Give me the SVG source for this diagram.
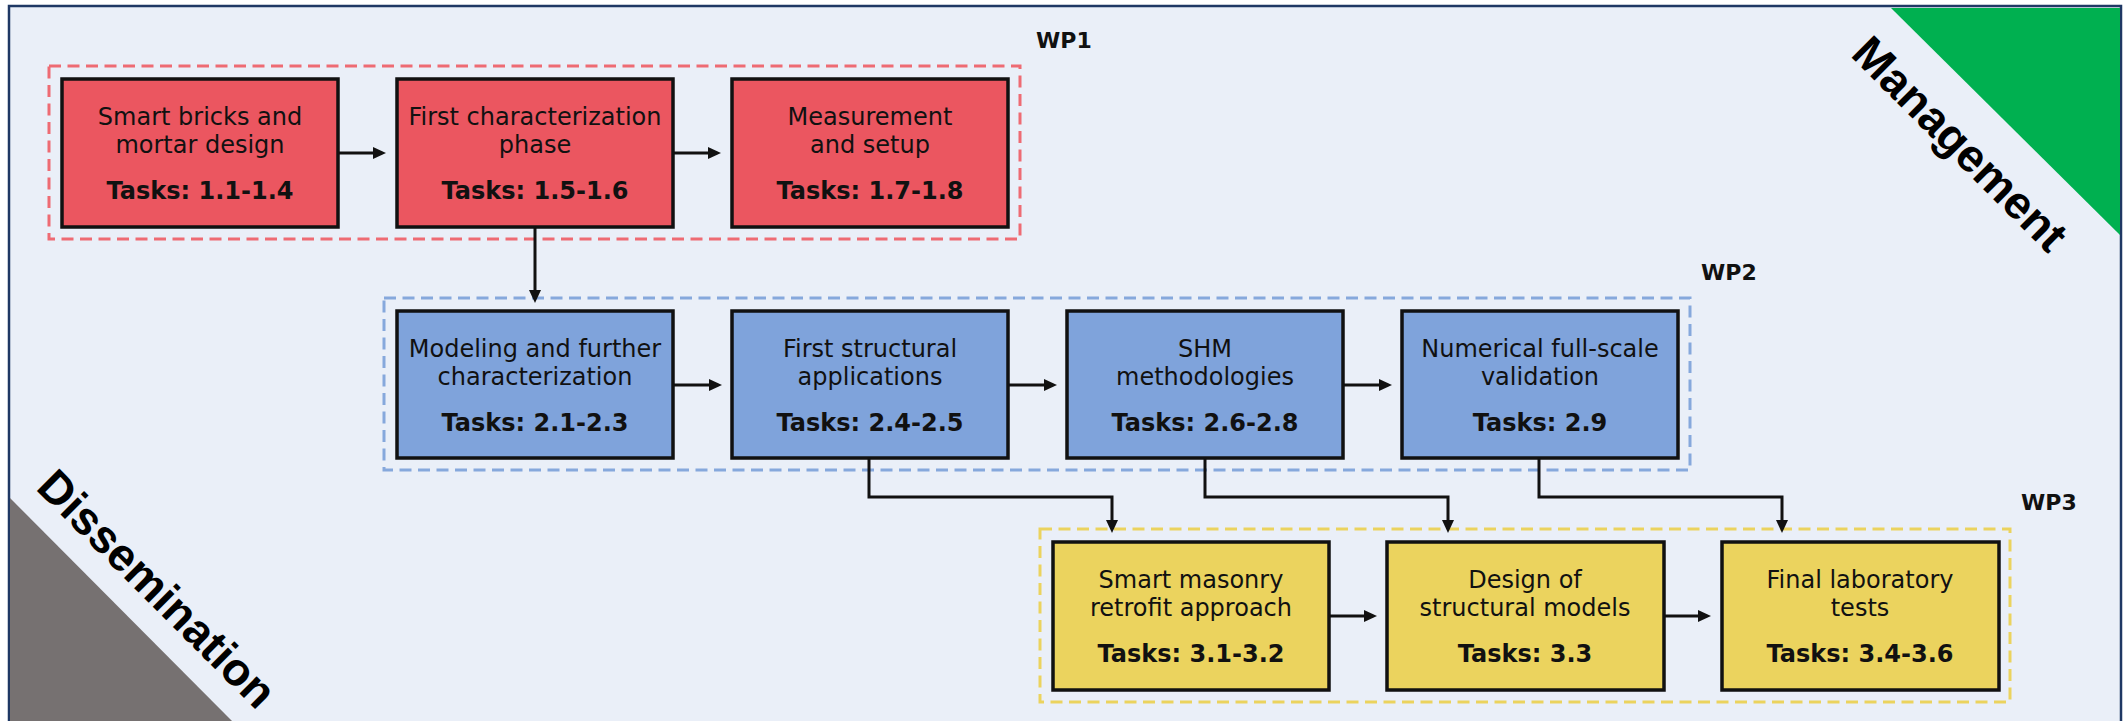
<svg xmlns="http://www.w3.org/2000/svg" width="2123" height="721" viewBox="0 0 2123 721">
<style>
.node{stroke:#111;stroke-width:3.5}
.red{fill:#EB5660}
.blue{fill:#7FA3DB}
.yel{fill:#EBD35E}
.t{font-family:"DejaVu Sans",Verdana,sans-serif;font-size:24px;fill:#111;text-anchor:middle}
.b{font-weight:bold}
.wp{font-family:"DejaVu Sans",Verdana,sans-serif;font-size:22px;font-weight:bold;fill:#111}
.grp{fill:none;stroke-width:3;stroke-dasharray:12 6.5}
.conn{fill:none;stroke:#111;stroke-width:3}
.side{font-family:"Liberation Sans",Arial,sans-serif;font-size:46px;font-weight:bold;fill:#000;text-anchor:middle}
</style>
<defs>
<marker id="ah" markerUnits="userSpaceOnUse" markerWidth="14" markerHeight="13" refX="7" refY="6.5" orient="auto">
<path d="M0,0.5 L13,6.5 L0,12.5 z" fill="#111"/>
</marker>
</defs>
<rect x="0" y="0" width="2123" height="721" fill="#ffffff"/>
<rect x="9" y="6" width="2112" height="730" fill="#EAEFF8" stroke="#1F3864" stroke-width="2.5"/>
<g id="management">
<polygon points="1891,8 2120,8 2120,235" fill="#00B050"/>
<text class="side" transform="translate(1949,155) rotate(45)">Management</text>
</g>
<g id="dissemination">
<polygon points="10,498 10,721 232,721" fill="#767171"/>
<text class="side" transform="translate(146,600) rotate(45)">Dissemination</text>
</g>
<g id="wp1">
<rect class="grp" x="49" y="66" width="971" height="173" stroke="#EE6B73"/>
<text class="wp" x="1036" y="48">WP1</text>
</g>
<g id="wp2">
<rect class="grp" x="384" y="298" width="1306" height="172" stroke="#86A8DC"/>
<text class="wp" x="1701" y="280">WP2</text>
</g>
<g id="wp3">
<rect class="grp" x="1040" y="529" width="970" height="173" stroke="#EBD35E"/>
<text class="wp" x="2021" y="510">WP3</text>
</g>
<g id="connectors">
<path class="conn" d="M338 153 H380" marker-end="url(#ah)"/>
<path class="conn" d="M673 153 H715" marker-end="url(#ah)"/>
<path class="conn" d="M535 227 V297" marker-end="url(#ah)"/>
<path class="conn" d="M674 385 H716" marker-end="url(#ah)"/>
<path class="conn" d="M1009 385 H1051" marker-end="url(#ah)"/>
<path class="conn" d="M1343 385 H1386" marker-end="url(#ah)"/>
<path class="conn" d="M1329 616 H1371" marker-end="url(#ah)"/>
<path class="conn" d="M1664 616 H1705" marker-end="url(#ah)"/>
<path class="conn" d="M869 458 V497 H1112 V527" marker-end="url(#ah)"/>
<path class="conn" d="M1205 458 V497 H1448 V527" marker-end="url(#ah)"/>
<path class="conn" d="M1539 458 V497 H1782 V527" marker-end="url(#ah)"/>
</g>
<g id="n11">
<rect class="node red" x="62" y="79" width="276" height="148"/>
<text class="t" x="200" y="125">Smart bricks and</text>
<text class="t" x="200" y="153">mortar design</text>
<text class="t b" x="200" y="199">Tasks: 1.1-1.4</text>
</g>
<g id="n15">
<rect class="node red" x="397" y="79" width="276" height="148"/>
<text class="t" x="535" y="125">First characterization</text>
<text class="t" x="535" y="153">phase</text>
<text class="t b" x="535" y="199">Tasks: 1.5-1.6</text>
</g>
<g id="n17">
<rect class="node red" x="732" y="79" width="276" height="148"/>
<text class="t" x="870" y="125">Measurement</text>
<text class="t" x="870" y="153">and setup</text>
<text class="t b" x="870" y="199">Tasks: 1.7-1.8</text>
</g>
<g id="n21">
<rect class="node blue" x="397" y="311" width="276" height="147"/>
<text class="t" x="535" y="357">Modeling and further</text>
<text class="t" x="535" y="385">characterization</text>
<text class="t b" x="535" y="431">Tasks: 2.1-2.3</text>
</g>
<g id="n24">
<rect class="node blue" x="732" y="311" width="276" height="147"/>
<text class="t" x="870" y="357">First structural</text>
<text class="t" x="870" y="385">applications</text>
<text class="t b" x="870" y="431">Tasks: 2.4-2.5</text>
</g>
<g id="n26">
<rect class="node blue" x="1067" y="311" width="276" height="147"/>
<text class="t" x="1205" y="357">SHM</text>
<text class="t" x="1205" y="385">methodologies</text>
<text class="t b" x="1205" y="431">Tasks: 2.6-2.8</text>
</g>
<g id="n29">
<rect class="node blue" x="1402" y="311" width="276" height="147"/>
<text class="t" x="1540" y="357">Numerical full-scale</text>
<text class="t" x="1540" y="385">validation</text>
<text class="t b" x="1540" y="431">Tasks: 2.9</text>
</g>
<g id="n31">
<rect class="node yel" x="1053" y="542" width="276" height="148"/>
<text class="t" x="1191" y="588">Smart masonry</text>
<text class="t" x="1191" y="616">retrofit approach</text>
<text class="t b" x="1191" y="662">Tasks: 3.1-3.2</text>
</g>
<g id="n33">
<rect class="node yel" x="1387" y="542" width="277" height="148"/>
<text class="t" x="1525" y="588">Design of</text>
<text class="t" x="1525" y="616">structural models</text>
<text class="t b" x="1525" y="662">Tasks: 3.3</text>
</g>
<g id="n34">
<rect class="node yel" x="1722" y="542" width="277" height="148"/>
<text class="t" x="1860" y="588">Final laboratory</text>
<text class="t" x="1860" y="616">tests</text>
<text class="t b" x="1860" y="662">Tasks: 3.4-3.6</text>
</g>
</svg>
